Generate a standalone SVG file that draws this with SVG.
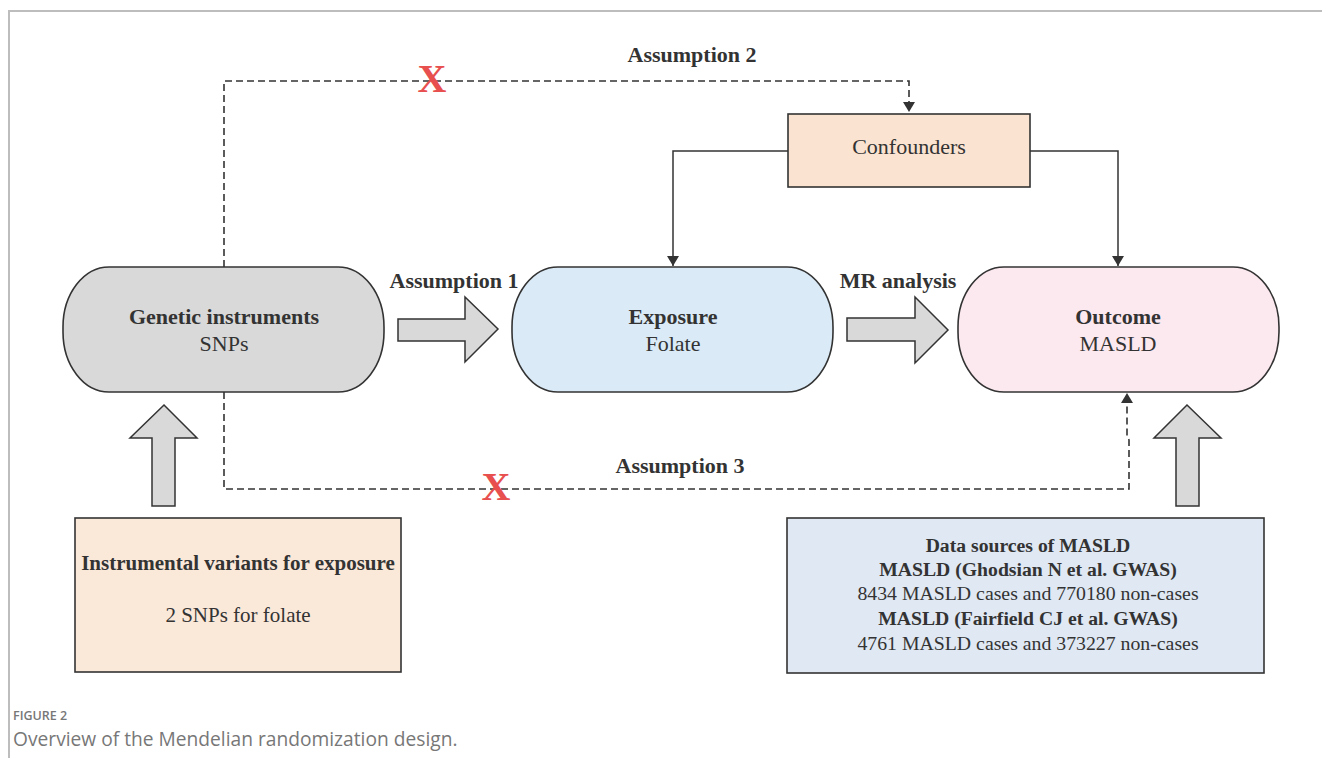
<svg xmlns="http://www.w3.org/2000/svg" width="1322" height="758" viewBox="0 0 1322 758">
<style>
.node{stroke:#333;stroke-width:1.6}
.blk{fill:#d9d9d9;stroke:#333;stroke-width:1.5}
.t{font-family:"Liberation Serif","Times New Roman",serif;fill:#333;text-anchor:middle}
.b{font-weight:bold}
.dash{fill:none;stroke:#333;stroke-width:1.6;stroke-dasharray:7 4}
.solid{fill:none;stroke:#333;stroke-width:1.5}
.x{font-family:"Liberation Serif","Times New Roman",serif;font-weight:bold;fill:#e8504f;text-anchor:middle;font-size:40px}
.cap{font-family:"Open Sans","Noto Sans",sans-serif;fill:#777}
</style>
<defs>
<marker id="ah" markerWidth="10" markerHeight="14" refX="10" refY="7" orient="auto" markerUnits="userSpaceOnUse">
<path d="M0,1 L10,7 L0,13 z" fill="#333"/>
</marker>
</defs>
<rect width="1322" height="758" fill="#fff"/>
<path d="M9,758 L9,11 L1322,11" fill="none" stroke="#bdbdbd" stroke-width="2"/>

<g id="connectors">
<path class="dash" d="M224,267 L224,81 L909,81 L909,112" marker-end="url(#ah)"/>
<path class="dash" d="M224,392 L224,489 L1129,489 L1129,440 L1127,436 L1127,393" marker-end="url(#ah)"/>
<path class="solid" d="M788,151 L673,151 L673,266" marker-end="url(#ah)"/>
<path class="solid" d="M1030,151 L1118,151 L1118,266" marker-end="url(#ah)"/>
<text class="x" x="432" y="92">X</text>
<text class="x" x="496" y="500">X</text>
<text class="t b" x="692" y="62" font-size="22">Assumption 2</text>
<text class="t b" x="680" y="473" font-size="22">Assumption 3</text>
<text class="t b" x="454" y="288" font-size="22">Assumption 1</text>
<text class="t b" x="898" y="288" font-size="22">MR analysis</text>
<path class="blk" d="M398,319 L465,319 L465,297 L498,329 L465,362 L465,341 L398,341 Z"/>
<path class="blk" d="M847,318 L915,318 L915,297 L948,330 L915,363 L915,341 L847,341 Z"/>
<path class="blk" d="M152,506 L152,438 L130,438 L164,405 L197,438 L175,438 L175,506 Z"/>
<path class="blk" d="M1176,506 L1176,438 L1154,438 L1187,405 L1221,438 L1199,438 L1199,506 Z"/>
</g>

<g id="genetic">
<rect class="node" x="63" y="267" width="321" height="125" rx="46" ry="60" fill="#d9d9d9"/>
<text class="t b" x="224" y="324" font-size="22">Genetic instruments</text>
<text class="t" x="224" y="351" font-size="22">SNPs</text>
</g>
<g id="exposure">
<rect class="node" x="512" y="267" width="321" height="125" rx="46" ry="60" fill="#daeaf6"/>
<text class="t b" x="673" y="324" font-size="22">Exposure</text>
<text class="t" x="673" y="351" font-size="22">Folate</text>
</g>
<g id="outcome">
<rect class="node" x="958" y="267" width="321" height="125" rx="46" ry="60" fill="#fce8ef"/>
<text class="t b" x="1118" y="324" font-size="22">Outcome</text>
<text class="t" x="1118" y="351" font-size="22">MASLD</text>
</g>
<g id="confounders">
<rect class="node" x="788" y="114" width="242" height="73" fill="#fae3d1"/>
<text class="t" x="909" y="154" font-size="22">Confounders</text>
</g>
<g id="instrumental">
<rect class="node" x="75" y="518" width="326" height="154" fill="#fae8d9"/>
<text class="t b" x="238" y="570" font-size="21">Instrumental variants for exposure</text>
<text class="t" x="238" y="622" font-size="21">2 SNPs for folate</text>
</g>
<g id="datasources">
<rect class="node" x="787" y="518" width="477" height="155" fill="#dfe8f3"/>
<text class="t b" x="1028" y="552" font-size="19.7">Data sources of MASLD</text>
<text class="t b" x="1028" y="576" font-size="19.7">MASLD (Ghodsian N et al. GWAS)</text>
<text class="t" x="1028" y="600" font-size="19.8">8434 MASLD cases and 770180 non-cases</text>
<text class="t b" x="1028" y="625" font-size="19.7">MASLD (Fairfield CJ et al. GWAS)</text>
<text class="t" x="1028" y="650" font-size="19.8">4761 MASLD cases and 373227 non-cases</text>
</g>
<g id="caption">
<text class="cap" x="13" y="720" font-size="12.5" font-weight="600" fill="#888">FIGURE 2</text>
<text class="cap" x="13" y="746" font-size="19.2">Overview of the Mendelian randomization design.</text>
</g>
</svg>
